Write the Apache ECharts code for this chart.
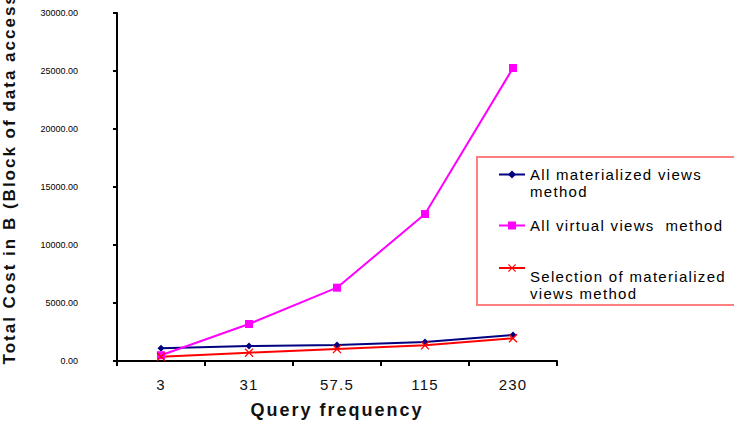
<!DOCTYPE html>
<html>
<head>
<meta charset="utf-8">
<script src="https://cdn.jsdelivr.net/npm/echarts@6/dist/echarts.min.js"></script>
<style>
  html, body { margin: 0; padding: 0; background: #fff; }
  #chart { width: 734px; height: 423px; }
</style>
</head>
<body>
<div id="chart"></div>
<script>
const categories = ["3", "31", "57.5", "115", "230"];
const allMaterialized = [1090, 1290, 1380, 1640, 2240];
const allVirtual = [500, 3190, 6320, 12670, 25260];
const selectionMaterialized = [370, 720, 1030, 1350, 1960];

const seriesNames = [
  "All materialized views\nmethod",
  "All virtual views  method",
  "Selection of materialized\nviews method",
];
const xTitle = "Query frequency";
const yTitle = "Total Cost in B (Block of data access)";

const FONT = "Liberation Sans, Arial, sans-serif";
const CROSS = "path://M0,1 L1,0 L5,4 L9,0 L10,1 L6,5 L10,9 L9,10 L5,6 L1,10 L0,9 L4,5 Z";

const chart = echarts.init(document.getElementById("chart"), null, { renderer: "svg" });

// old spreadsheet-style spacing between letters; zrender has no letterSpacing so set it on the svg text
function spaceLetters() {
  document.querySelectorAll("#chart text").forEach((t) => {
    const s = t.textContent.trim();
    let ls = 1.3;
    if (/\.00$/.test(s)) ls = 0;
    else if (s === xTitle || s === yTitle) ls = 2;
    else if (categories.includes(s)) ls = 1.2;
    t.setAttribute("letter-spacing", ls + "px");
  });
}
chart.on("finished", spaceLetters);

const legendBase = {
  left: 498,
  orient: "vertical",
  padding: 0,
  itemWidth: 26,
  itemHeight: 10,
  itemGap: 0,
  selectedMode: false,
  textStyle: { fontFamily: FONT, fontSize: 15, color: "#000", lineHeight: 17 },
};

chart.setOption({
  animation: false,
  backgroundColor: "#fff",
  grid: { left: 117, right: 177, top: 13, bottom: 62, outerBoundsMode: "none", containLabel: false },
  legend: [
    // blank lines in front keep the marker level with the first line of text
    Object.assign({}, legendBase, { top: 149, data: [seriesNames[0]], formatter: (n) => " \n" + n }),
    Object.assign({}, legendBase, { top: 217, data: [seriesNames[1]] }),
    Object.assign({}, legendBase, { top: 234, data: [seriesNames[2]], formatter: (n) => " \n \n" + n }),
  ],
  graphic: [
    {
      type: "rect",
      shape: { x: 477, y: 157, width: 260, height: 148 },
      style: { fill: "none", stroke: "#ff8080", lineWidth: 2 },
    },
  ],
  xAxis: {
    type: "category",
    data: categories,
    boundaryGap: true,
    name: xTitle,
    nameLocation: "middle",
    nameGap: 40,
    nameTextStyle: { fontFamily: FONT, fontSize: 18, fontWeight: "bold", color: "#111" },
    axisLine: { lineStyle: { color: "#000", width: 2 } },
    axisTick: { show: true, length: 5, lineStyle: { color: "#000", width: 2 } },
    axisLabel: { fontFamily: FONT, fontSize: 15, color: "#111", margin: 16 },
  },
  yAxis: {
    type: "value",
    min: 0,
    max: 30000,
    interval: 5000,
    name: yTitle,
    nameLocation: "middle",
    nameGap: 99,
    nameTextStyle: {
      fontFamily: FONT,
      fontSize: 17,
      fontWeight: "bold",
      color: "#111",
      padding: [0, 0, 0, 24],
    },
    splitLine: { show: false },
    axisLine: { show: true, lineStyle: { color: "#000", width: 2 } },
    axisTick: { show: true, length: 4, lineStyle: { color: "#000", width: 2 } },
    axisLabel: {
      fontFamily: "Liberation Sans Narrow, " + FONT,
      fontSize: 9,
      color: "#000",
      margin: 39,
      formatter: (v) => v.toFixed(2),
    },
  },
  series: [
    {
      name: seriesNames[0],
      type: "line",
      data: allMaterialized,
      symbol: "diamond",
      symbolSize: 7,
      lineStyle: { color: "#000080", width: 2 },
      itemStyle: { color: "#000080" },
    },
    {
      name: seriesNames[1],
      type: "line",
      data: allVirtual,
      symbol: "rect",
      symbolSize: 8,
      lineStyle: { color: "#ff00ff", width: 2 },
      itemStyle: { color: "#ff00ff" },
    },
    {
      name: seriesNames[2],
      type: "line",
      data: selectionMaterialized,
      symbol: CROSS,
      symbolSize: 9,
      lineStyle: { color: "#ff0000", width: 2 },
      itemStyle: { color: "#ff0000" },
    },
  ],
});
spaceLetters();
</script>
</body>
</html>
